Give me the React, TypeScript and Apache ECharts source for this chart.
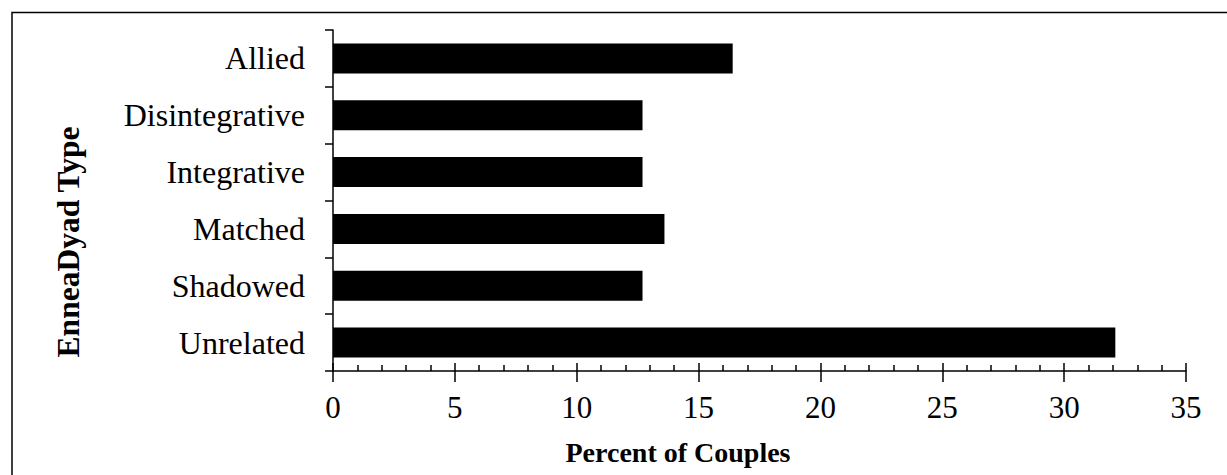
import React, { useEffect, useRef } from "react";
import * as echarts from "echarts";

const categories = ["Allied", "Disintegrative", "Integrative", "Matched", "Shadowed", "Unrelated"];
const percentValues = [16.4, 12.7, 12.7, 13.6, 12.7, 32.1];
const xTickMin = 0;
const xTickMax = 35;
const xTickStep = 5;
const xTitle = "Percent of Couples";
const yTitle = "EnneaDyad Type";

const FONT = '"Liberation Serif", "Times New Roman", serif';

export default function App() {
  const ref = useRef<HTMLDivElement>(null);
  useEffect(() => {
    if (!ref.current) return;
    const chart = echarts.init(ref.current, undefined, { renderer: "svg" });
    const black = "#000";
    chart.setOption({
      animation: false,
      backgroundColor: "#fff",
      grid: { left: 333, right: 41, top: 30, bottom: 104, containLabel: false },
      xAxis: [
        {
          type: "value",
          min: xTickMin,
          max: xTickMax,
          interval: xTickStep,
          position: "bottom",
          axisLine: { show: true, lineStyle: { color: black, width: 1.5 } },
          axisTick: { show: true, inside: true, length: 8, lineStyle: { color: black, width: 1.5 } },
          minorTick: { show: true, splitNumber: 5, length: 6, lineStyle: { color: black, width: 1.5 } },
          axisLabel: { show: false },
          splitLine: { show: false },
          minorSplitLine: { show: false },
        },
        {
          type: "value",
          min: xTickMin,
          max: xTickMax,
          interval: xTickStep,
          position: "bottom",
          axisLine: { show: false },
          axisTick: { show: true, inside: false, length: 11, lineStyle: { color: black, width: 1.5 } },
          axisLabel: { show: true, color: black, fontSize: 31, fontFamily: FONT, margin: 21 },
          splitLine: { show: false },
        },
      ],
      yAxis: {
        type: "category",
        data: categories,
        inverse: true,
        axisLine: { show: true, lineStyle: { color: black, width: 1.5 } },
        axisTick: { show: true, length: 8, alignWithLabel: false, lineStyle: { color: black, width: 1.5 } },
        axisLabel: { color: black, fontSize: 32, fontFamily: FONT, margin: 28 },
        splitLine: { show: false },
      },
      series: [
        {
          type: "bar",
          xAxisIndex: 0,
          data: percentValues,
          barWidth: 30,
          itemStyle: { color: black },
        },
      ],
      graphic: [
        {
          type: "polyline",
          shape: { points: [[12, 475], [12, 12.5], [1227, 12.5]] },
          style: { stroke: black, lineWidth: 1.5, fill: "none" },
        },
        {
          type: "text",
          x: 678,
          y: 452,
          style: {
            text: xTitle,
            fontSize: 28,
            fontWeight: "bold",
            fontFamily: FONT,
            fill: black,
            textAlign: "center",
            textVerticalAlign: "middle",
          },
        },
        {
          type: "text",
          x: 68,
          y: 242,
          rotation: Math.PI / 2,
          style: {
            text: yTitle,
            fontSize: 31.5,
            fontWeight: "bold",
            fontFamily: FONT,
            fill: black,
            textAlign: "center",
            textVerticalAlign: "middle",
          },
        },
      ],
    });
    return () => chart.dispose();
  }, []);
  return (
    <div
      ref={ref}
      style={{ position: "absolute", left: 0, top: 0, width: 1227, height: 475 }}
    />
  );
}
